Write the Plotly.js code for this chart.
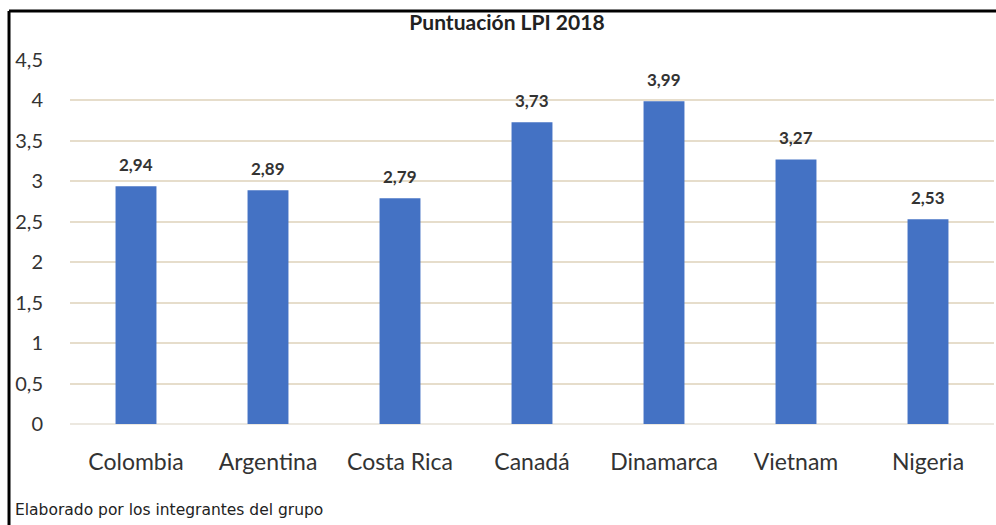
<!DOCTYPE html>
<html>
<head>
<meta charset="utf-8">
<script src="https://cdn.plot.ly/plotly-3.0.1.min.js"></script>
<style>
html,body{margin:0;padding:0;background:#fff;}
#chart{width:996px;height:525px;}
</style>
</head>
<body>
<div id="chart"></div>
<script>
const categories = ["Colombia","Argentina","Costa Rica","Canadá","Dinamarca","Vietnam","Nigeria"];
const scores = [2.94, 2.89, 2.79, 3.73, 3.99, 3.27, 2.53];
const yTicks = [0, 0.5, 1, 1.5, 2, 2.5, 3, 3.5, 4, 4.5];
const chartTitle = "Puntuación LPI 2018";
const footer = "Elaborado por los integrantes del grupo";

const FONT = "Lato, 'Open Sans', sans-serif";

const trace = {
  type: "bar",
  x: categories,
  y: scores,
  marker: {color: "#4472C4"},
  width: 0.31,
  hoverinfo: "skip"
};

const valueLabels = categories.map((c, i) => ({
  x: c, y: scores[i], xref: "x", yref: "y",
  text: scores[i].toFixed(2).replace(".", ","),
  showarrow: false, yanchor: "bottom", yshift: 9,
  font: {family: FONT, size: 17, color: "#333", weight: "bold"}
}));

const layout = {
  width: 996, height: 525,
  separators: ",.",
  margin: {l: 70, r: 2, t: 60, b: 101},
  paper_bgcolor: "#fff", plot_bgcolor: "#fff",
  showlegend: false,
  title: {
    text: "<b>" + chartTitle + "</b>",
    font: {family: FONT, size: 21, color: "#222"},
    x: 0.509, xref: "container", xanchor: "center",
    y: 0.957, yref: "container", yanchor: "middle"
  },
  xaxis: {
    type: "category",
    showgrid: false, zeroline: false, showline: false,
    ticks: "outside", ticklen: 17, tickcolor: "rgba(0,0,0,0)",
    tickfont: {family: FONT, size: 23, color: "#333"}
  },
  yaxis: {
    range: [0, 4.5],
    tickvals: yTicks,
    showgrid: true, gridcolor: "#E6DDCB", gridwidth: 2,
    zeroline: true, zerolinecolor: "#ECE8E0", zerolinewidth: 2,
    showline: false,
    ticks: "outside", ticklen: 22, tickcolor: "rgba(0,0,0,0)",
    tickfont: {family: FONT, size: 20, color: "#333"}
  },
  shapes: [
    {type: "line", xref: "paper", yref: "paper", x0: -0.066, x1: 1.01, y0: 1.1346, y1: 1.1346,
     line: {color: "#000", width: 3}},
    {type: "line", xref: "paper", yref: "paper", x0: -0.066, x1: -0.066, y0: 1.1346, y1: -0.28,
     line: {color: "#000", width: 3}}
  ],
  annotations: valueLabels.concat([
    {text: footer, xref: "paper", yref: "paper", x: -0.0617, y: -0.236, xanchor: "left", yanchor: "middle",
     showarrow: false, font: {family: "'DejaVu Sans', Verdana, sans-serif", size: 15.5, color: "#222"}}
  ])
};

Plotly.newPlot("chart", [trace], layout, {displayModeBar: false, staticPlot: true});
</script>
</body>
</html>
